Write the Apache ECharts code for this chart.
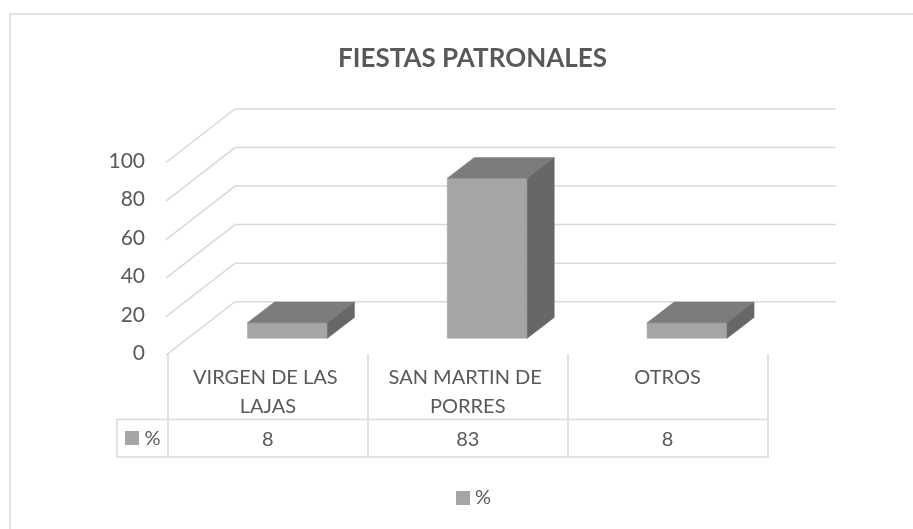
<!DOCTYPE html>
<html><head><meta charset="utf-8">
<style>html,body{margin:0;padding:0;background:#fff}#c{width:913px;height:529px}</style>
<script src="https://cdn.jsdelivr.net/npm/echarts@6/dist/echarts.min.js"></script>
</head><body><div id="c"></div>
<script>
const titleText = 'FIESTAS PATRONALES';
const categories = ['VIRGEN DE LAS LAJAS', 'SAN MARTIN DE PORRES', 'OTROS'];
const seriesName = '%';
const values = [8, 83, 8];
const yTicks = [0, 20, 40, 60, 80, 100];

const FONT = 'Lato';
const TEXT = '#595959', LINE = '#d9d9d9';
const FRONT = '#a5a5a5', TOP = '#7c7c7c', SIDE = '#676767';
const GL = 168, GW = 599.5, GT = 161, GH = 192.7;
const WALL_DX = 67, WALL_DY = -52;
const BAR_W = 80, BAR_DX = 27, BAR_DY = -20.7, BAR_OX = 19.5, BAR_OY = -15.5;

function renderGrid(params, api) {
  const p = api.coord([0, api.value(0)]);
  const y = p[1];
  const x0 = GL - 2;
  return { type: 'polyline', shape: { points: [[x0, y + 1.5], [GL + WALL_DX, y + WALL_DY], [836, y + WALL_DY]] },
    style: { fill: 'none', stroke: LINE, lineWidth: 1.5 }, silent: true };
}
function renderBar(params, api) {
  const c = api.coord([api.value(0), 0]);
  const t = api.coord([api.value(0), api.value(1)]);
  const x = c[0] + BAR_OX - BAR_W / 2, r = x + BAR_W;
  const b = c[1] + BAR_OY, top = t[1] + BAR_OY;
  const poly = (pts, fill) => ({ type: 'polygon', shape: { points: pts }, style: { fill, stroke: fill, lineWidth: 0.5 } });
  return { type: 'group', children: [
    poly([[x, top], [r, top], [r, b], [x, b]], FRONT),
    poly([[x, top], [x + BAR_DX, top + BAR_DY], [r + BAR_DX, top + BAR_DY], [r, top]], TOP),
    poly([[r, top], [r + BAR_DX, top + BAR_DY], [r + BAR_DX, b + BAR_DY], [r, b]], SIDE)
  ] };
}
function renderCell(params, api) {
  const c = api.coord([api.value(0), 0]);
  return { type: 'text', x: c[0], y: c[1] + 85.5,
    style: { text: String(api.value(1)), font: '20px ' + FONT, fill: TEXT, align: 'center', verticalAlign: 'middle' }, silent: true };
}

const chart = echarts.init(document.getElementById('c'), null, { renderer: 'canvas' });
chart.setOption({
  animation: false,
  backgroundColor: '#fff',
  title: { text: titleText, left: 467.5, top: 41, textAlign: 'center',
    textStyle: { fontFamily: FONT, fontSize: 26, fontWeight: 'bold', color: TEXT } },
  legend: { data: [seriesName], left: 456, top: 488, itemWidth: 14, itemHeight: 14, itemGap: 5, icon: 'rect', padding: 0,
    textStyle: { fontFamily: FONT, fontSize: 20, color: TEXT }, selectedMode: false },
  grid: { left: GL, top: GT, width: GW, height: GH, containLabel: false },
  xAxis: { type: 'category', data: categories, boundaryGap: true,
    axisLine: { show: false },
    axisTick: { show: true, length: 104, lineStyle: { color: LINE, width: 1.5 } },
    axisLabel: { interval: 0, margin: 9, width: 190, overflow: 'break', fontFamily: FONT, fontSize: 20, color: TEXT, lineHeight: 29, verticalAlign: 'top' } },
  yAxis: { type: 'value', min: 0, max: 100, interval: 20,
    axisLine: { show: false }, axisTick: { show: false }, splitLine: { show: false },
    axisLabel: { margin: 23, fontFamily: FONT, fontSize: 21, color: TEXT, padding: [0, 0, 3, 0] } },
  graphic: [
    { type: 'polyline', silent: true, shape: { points: [[10, 529], [10, 14], [913, 14]] }, style: { fill: 'none', stroke: LINE, lineWidth: 1.5 } },
    { type: 'polyline', silent: true, shape: { points: [[767.5, 419.5], [117, 419.5], [117, 457], [767.5, 457]] }, style: { fill: 'none', stroke: LINE, lineWidth: 1.5 } },
    { type: 'rect', silent: true, shape: { x: 125, y: 431, width: 14, height: 14 }, style: { fill: FRONT } },
    { type: 'text', silent: true, x: 144.5, y: 439, style: { text: seriesName, font: '20px ' + FONT, fill: TEXT, verticalAlign: 'middle' } }
  ],
  series: [
    { type: 'custom', name: '_grid', data: yTicks.map(v => [v]), renderItem: renderGrid, encode: { y: 0 }, clip: false, z: 1, silent: true, tooltip: { show: false } },
    { type: 'custom', name: seriesName, data: values.map((v, i) => [i, v]), renderItem: renderBar, encode: { x: 0, y: 1 }, clip: false, z: 3, itemStyle: { color: FRONT } },
    { type: 'custom', name: '_cells', data: values.map((v, i) => [i, v]), renderItem: renderCell, encode: { x: 0 }, clip: false, z: 3, silent: true }
  ]
});
</script></body></html>
